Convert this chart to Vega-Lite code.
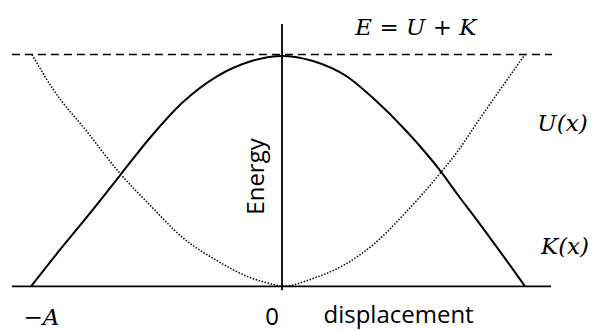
{
  "$schema": "https://vega.github.io/schema/vega-lite/v6.json",
  "width": 595,
  "height": 331,
  "autosize": {"type": "fit", "contains": "padding"},
  "padding": 0,
  "background": "white",
  "config": {"view": {"stroke": null}},
  "datasets": {
    "curves": [
      {"series": "K", "x": -1.012, "y": 0},
      {"series": "K", "x": -0.895, "y": 0.158},
      {"series": "K", "x": -0.774, "y": 0.316},
      {"series": "K", "x": -0.653, "y": 0.479},
      {"series": "K", "x": -0.532, "y": 0.641},
      {"series": "K", "x": -0.399, "y": 0.795},
      {"series": "K", "x": -0.262, "y": 0.906},
      {"series": "K", "x": -0.129, "y": 0.970},
      {"series": "K", "x": 0, "y": 0.994},
      {"series": "K", "x": 0.125, "y": 0.972},
      {"series": "K", "x": 0.262, "y": 0.905},
      {"series": "K", "x": 0.367, "y": 0.812},
      {"series": "K", "x": 0.504, "y": 0.667},
      {"series": "K", "x": 0.637, "y": 0.500},
      {"series": "K", "x": 0.710, "y": 0.393},
      {"series": "K", "x": 0.786, "y": 0.286},
      {"series": "K", "x": 0.980, "y": 0},
      {"series": "U", "x": -1.008, "y": 1.0},
      {"series": "U", "x": -0.923, "y": 0.850},
      {"series": "U", "x": -0.786, "y": 0.667},
      {"series": "U", "x": -0.653, "y": 0.487},
      {"series": "U", "x": -0.532, "y": 0.350},
      {"series": "U", "x": -0.399, "y": 0.209},
      {"series": "U", "x": -0.262, "y": 0.111},
      {"series": "U", "x": -0.129, "y": 0.038},
      {"series": "U", "x": -0.036, "y": 0.009},
      {"series": "U", "x": 0, "y": 0},
      {"series": "U", "x": 0.125, "y": 0.034},
      {"series": "U", "x": 0.246, "y": 0.090},
      {"series": "U", "x": 0.367, "y": 0.179},
      {"series": "U", "x": 0.504, "y": 0.325},
      {"series": "U", "x": 0.637, "y": 0.487},
      {"series": "U", "x": 0.710, "y": 0.585},
      {"series": "U", "x": 0.786, "y": 0.705},
      {"series": "U", "x": 0.980, "y": 1.0}
    ],
    "lines": [
      {"part": "total", "x": -1.089, "y": 1, "x2": 1.089, "y2": 1},
      {"part": "axis", "x": 0, "y": -0.017, "x2": 0, "y2": 1.132},
      {"part": "axis", "x": -1.089, "y": 0, "x2": 1.085, "y2": 0}
    ],
    "math": [
      {"label": "E = U + K", "x": 0.540, "y": 1.0825},
      {"label": "U(x)", "x": 1.131, "y": 0.672},
      {"label": "K(x)", "x": 1.141, "y": 0.138},
      {"label": "−A", "x": -0.970, "y": -0.168}
    ],
    "words": [
      {"label": "0", "x": -0.040, "y": -0.166},
      {"label": "displacement", "x": 0.470, "y": -0.160}
    ],
    "vertical": [
      {"label": "Energy", "x": -0.101, "y": 0.474}
    ]
  },
  "encoding": {
    "x": {"field": "x", "type": "quantitative", "scale": {"domain": [-1.137, 1.262], "nice": false, "zero": false}, "axis": null},
    "y": {"field": "y", "type": "quantitative", "scale": {"domain": [-0.1795, 1.235], "nice": false, "zero": false}, "axis": null}
  },
  "layer": [
    {
      "data": {"name": "lines"},
      "transform": [{"filter": "datum.part === 'axis'"}],
      "mark": {"type": "rule", "color": "black", "strokeWidth": 1.8},
      "encoding": {"x2": {"field": "x2"}, "y2": {"field": "y2"}}
    },
    {
      "data": {"name": "lines"},
      "transform": [{"filter": "datum.part === 'total'"}],
      "mark": {"type": "rule", "color": "black", "strokeWidth": 1.7, "strokeDash": [8, 5]},
      "encoding": {"x2": {"field": "x2"}, "y2": {"field": "y2"}}
    },
    {
      "data": {"name": "curves"},
      "transform": [{"filter": "datum.series === 'U'"}],
      "mark": {"type": "line", "color": "black", "strokeWidth": 1.5, "strokeDash": [1.5, 1.6], "interpolate": "monotone"}
    },
    {
      "data": {"name": "curves"},
      "transform": [{"filter": "datum.series === 'K'"}],
      "mark": {"type": "line", "color": "black", "strokeWidth": 2, "interpolate": "monotone"}
    },
    {
      "data": {"name": "math"},
      "mark": {"type": "text", "font": "DejaVu Serif", "fontStyle": "italic", "fontSize": 23, "align": "center", "baseline": "alphabetic", "color": "black"},
      "encoding": {"text": {"field": "label"}}
    },
    {
      "data": {"name": "words"},
      "mark": {"type": "text", "font": "Open Sans", "fontSize": 24, "align": "center", "baseline": "alphabetic", "color": "black"},
      "encoding": {"text": {"field": "label"}}
    },
    {
      "data": {"name": "vertical"},
      "mark": {"type": "text", "font": "Open Sans", "fontSize": 24, "angle": 270, "align": "center", "baseline": "middle", "color": "black"},
      "encoding": {"text": {"field": "label"}}
    }
  ]
}
